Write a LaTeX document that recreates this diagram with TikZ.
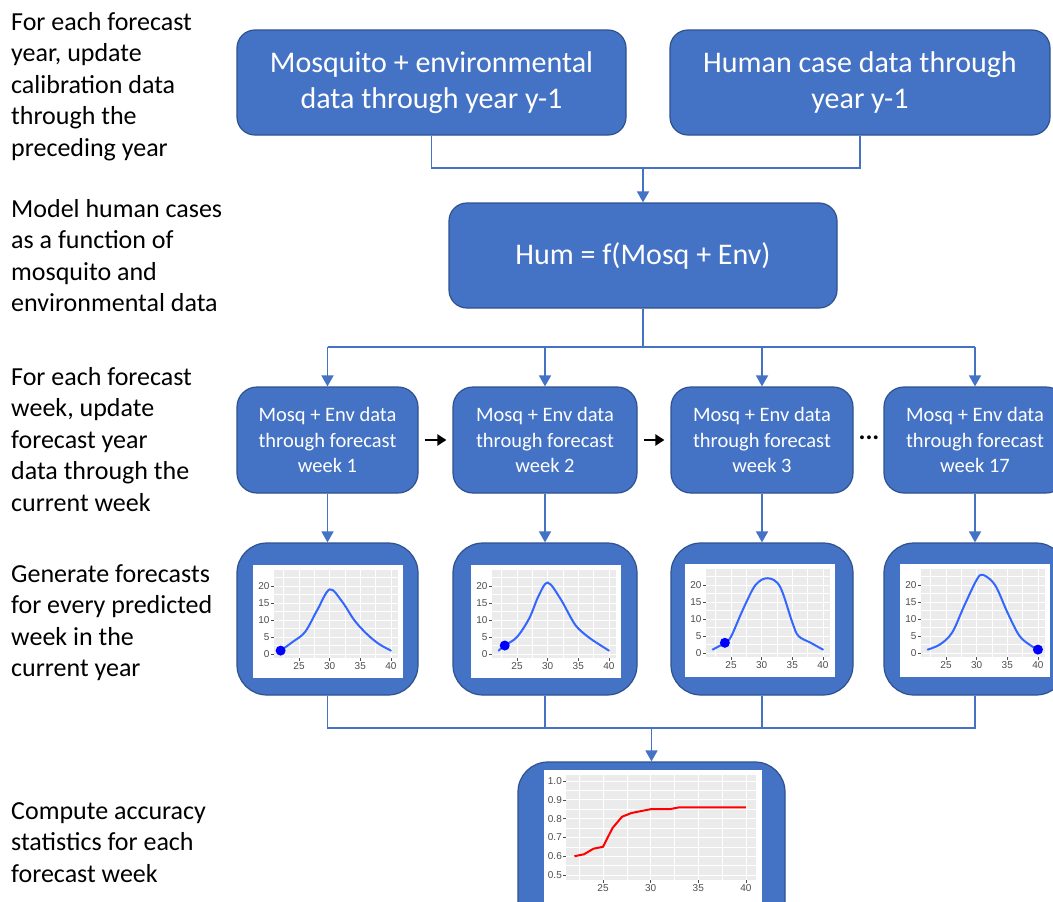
\documentclass[tikz,border=0pt]{standalone}
\usepackage{fontspec}
\setmainfont{Carlito}
\newfontfamily\tickfont{Liberation Sans}
\usetikzlibrary{arrows.meta}
\definecolor{boxblue}{HTML}{4472C4}
\definecolor{boxedge}{HTML}{2F528F}
\definecolor{panelgray}{HTML}{EBEBEB}
\definecolor{ticktext}{HTML}{4D4D4D}
\definecolor{curveblue}{HTML}{3366FF}
\tikzset{
  bluebox/.style={draw=boxedge, line width=1.2pt, fill=boxblue, text=white, align=center, inner sep=0pt},
  bigbox/.style={bluebox, rounded corners=18pt, font=\fontsize{30}{36}\selectfont},
  weekbox/.style={bluebox, rounded corners=20pt, font=\fontsize{20.5}{25.5}\selectfont, minimum width=182pt, minimum height=106pt},
  chartbox/.style={bluebox, rounded corners=30pt, minimum width=182pt, minimum height=152pt},
  sidetext/.style={anchor=north west, align=left, inner sep=0pt, font=\fontsize{26}{31.5}\selectfont},
  conn/.style={draw=boxblue, line width=1.7pt},
  arr/.style={conn, -{Triangle[width=12pt,length=11pt]}},
  blackarr/.style={draw=black, line width=2.2pt, -{Triangle[width=11pt,length=9pt]}, shorten <=6pt, shorten >=6pt},
  gridmajor/.style={draw=white, line width=0.9pt},
  gridminor/.style={draw=white, line width=0.4pt},
  tickmark/.style={draw=ticktext, line width=0.6pt},
  ticklabel/.style={inner sep=0pt, text=ticktext, font=\tickfont\fontsize{10}{10}\selectfont},
}
% #1 x pixel of 25, #2 y pixel of 0, #3 curve coordinates, #4 dot, #5 name prefix
\newcommand\minichart[5]{%
 \begin{scope}[shift={(#1-153.25,#2)}, x=6.13pt, y=3.4pt]
  \fill[white] (17.5,-7.06) rectangle (42.0,26.2);
  \fill[panelgray] (20.9,-1.2) rectangle (41.15,24.7);
  \foreach \gx in {22.5,27.5,32.5,37.5} {\draw[gridminor] (\gx,-1.2) -- (\gx,24.7);}
  \foreach \gy in {2.5,7.5,12.5,17.5,22.5} {\draw[gridminor] (20.9,\gy) -- (41.15,\gy);}
  \foreach \gx in {25,30,35,40} {
    \draw[gridmajor] (\gx,-1.2) -- (\gx,24.7);
    \draw[tickmark] (\gx,-1.2) -- (\gx,-2.1);
    \node[ticklabel, anchor=north] (#5x\gx) at (\gx,-2.5) {\gx};}
  \foreach \gy in {0,5,10,15,20} {
    \draw[gridmajor] (20.9,\gy) -- (41.15,\gy);
    \draw[tickmark] (20.4,\gy) -- (20.9,\gy);
    \node[ticklabel, anchor=east] (#5y\gy) at (20.2,\gy) {\gy};}
  \draw[curveblue, line width=2pt, line cap=round] plot[smooth, tension=0.55] coordinates {#3};
  \fill[blue] (#4) circle (5pt);
 \end{scope}}
\begin{document}
\begin{tikzpicture}[x=1pt, y=-1pt]
\useasboundingbox (0,0) rectangle (1053,902);
\clip (0,0) rectangle (1053,902);
\fill[white] (0,0) rectangle (1053,902);

% side texts
\node[sidetext] (s1) at (11,12) {For each forecast\\year, update\\calibration data\\through the\\preceding year};
\node[sidetext] (s2) at (11,199) {Model human cases\\as a function of\\mosquito and\\environmental data};
\node[sidetext] (s3) at (11,367) {For each forecast\\week, update\\forecast year\\data through the\\current week};
\node[sidetext] (s4) at (11,564) {Generate forecasts\\for every predicted\\week in the\\current year};
\node[sidetext] (s5) at (11,802) {Compute accuracy\\statistics for each\\forecast week};

% top boxes
\node[bigbox, minimum width=389pt, minimum height=105pt] (tl) at (431.5,82.5) {Mosquito + environmental\\data through year y-1};
\node[bigbox, minimum width=380pt, minimum height=105pt] (tr) at (860,82.5) {Human case data through\\year y-1};
\node[bigbox, minimum width=388pt, minimum height=105pt] (hum) at (643,255.5) {Hum = f(Mosq + Env)};

% week boxes
\node[weekbox, minimum width=181pt] (w1) at (327.5,440) {Mosq + Env data\\through forecast\\week 1};
\node[weekbox, minimum width=184pt] (w2) at (545,440) {Mosq + Env data\\through forecast\\week 2};
\node[weekbox] (w3) at (762,440) {Mosq + Env data\\through forecast\\week 3};
\node[weekbox] (w4) at (975,440) {Mosq + Env data\\through forecast\\week 17};

% chart boxes
\node[chartbox, minimum width=181pt] (c1) at (327.5,619) {};
\node[chartbox, minimum width=184pt] (c2) at (545,619) {};
\node[chartbox] (c3) at (762,619) {};
\node[chartbox] (c4) at (975,619) {};
\node[bluebox, rounded corners=30pt, minimum width=267pt, minimum height=180pt] (bot) at (651.5,852) {};

% connectors
\coordinate (j1) at (643,168);
\draw[conn] (tl.south) |- (j1) -| (tr.south);
\draw[arr] (j1) -- (hum.north);
\coordinate (j2) at (643,347);
\draw[conn] (hum.south) -- (j2);
\draw[conn] (w1.north |- j2) -- (w4.north |- j2);
\foreach \w in {w1,w2,w3,w4} {\draw[arr] (\w.north |- j2) -- (\w.north);}
\draw[arr] (w1.south) -- (c1.north);
\draw[arr] (w2.south) -- (c2.north);
\draw[arr] (w3.south) -- (c3.north);
\draw[arr] (w4.south) -- (c4.north);
\coordinate (j3) at (651.5,728);
\draw[conn] (c1.south) |- (j3) -| (c4.south);
\draw[conn] (c2.south) -- (c2.south |- j3);
\draw[conn] (c3.south) -- (c3.south |- j3);
\draw[arr] (j3) -- (bot.north);

% black arrows and ellipsis
\draw[blackarr] (w1) -- (w2);
\draw[blackarr] (w2) -- (w3);
\node[inner sep=0pt, font=\fontsize{26}{26}\selectfont\bfseries] (dots) at (869,438) {...};

% mini charts
\minichart{299}{654}{(22,1) (24,3.6) (26,6.5) (28,13) (30,19) (32,15.5) (34,10) (36,6) (38,3) (40,1)}{22,1}{a}
\minichart{517}{654}{(22,1) (23,2.5) (25,5) (27,10.5) (28.5,17) (30,21) (32,16.5) (34,10) (35,7.5) (37,4.5) (40,1)}{23,2.5}{b}
\minichart{731}{653}{(22,1) (24,3) (25,4.8) (27,13) (29,20) (31,22) (33,19.5) (35,9) (36,5) (38,3) (40,1)}{24,3}{c}
\minichart{946}{653}{(22,1) (24,2.5) (26,6) (28,14) (30,21.5) (31,23) (33,20) (35,12) (37,5) (39,2) (40,1)}{40,1}{d}

% accuracy chart
\begin{scope}[shift={(364.75,969)}, x=9.53pt, y=188pt]
  \fill[white] (18.81,0.25) rectangle (41.68,1.058);
  \fill[panelgray] (21.11,0.473) rectangle (41.05,1.032);
  \foreach \gx in {22.5,27.5,32.5,37.5} {\draw[gridminor] (\gx,0.473) -- (\gx,1.032);}
  \foreach \gy in {0.55,0.65,0.75,0.85,0.95} {\draw[gridminor] (21.11,\gy) -- (41.05,\gy);}
  \foreach \gx in {25,30,35,40} {
    \draw[gridmajor] (\gx,0.473) -- (\gx,1.032);
    \draw[tickmark] (\gx,0.473) -- (\gx,0.459);
    \node[ticklabel, anchor=north] (ex\gx) at (\gx,0.452) {\gx};}
  \foreach \gy/\lab in {0.5/0.5,0.6/0.6,0.7/0.7,0.8/0.8,0.9/0.9,1.0/1.0} {
    \draw[gridmajor] (21.11,\gy) -- (41.05,\gy);
    \draw[tickmark] (20.8,\gy) -- (21.11,\gy);
    \node[ticklabel, anchor=east] (ey\lab) at (20.7,\gy) {\lab};}
  \draw[red, line width=2pt, line join=round] (22,0.60) -- (23,0.61) -- (24,0.64) -- (25,0.65) -- (26,0.75) -- (27,0.81) -- (28,0.83) -- (29,0.84) -- (30,0.85) -- (31,0.85) -- (32,0.85) -- (33,0.86) -- (40,0.86);
\end{scope}
\end{tikzpicture}
\end{document}
